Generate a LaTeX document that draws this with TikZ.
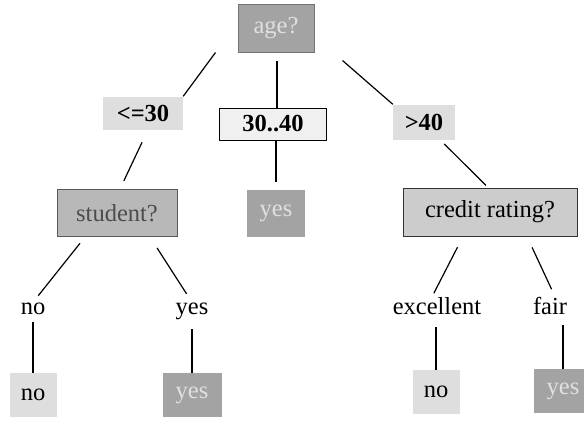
\documentclass[tikz,border=0pt]{standalone}
\usepackage{fontspec}
\setmainfont{Liberation Serif}
\definecolor{boxdark}{gray}{0.64}
\definecolor{boxmid}{gray}{0.72}
\definecolor{boxcred}{gray}{0.80}
\definecolor{boxlight}{gray}{0.87}
\begin{document}
\begin{tikzpicture}[x=1pt,y=-1pt,
	every node/.style={font=\fontsize{24.5}{29}\selectfont,inner sep=0pt},
	dunkel/.style={fill=boxdark,text=white!88!black},
	hell/.style={fill=boxlight},
	kante/.style={line width=1.2pt}]
	\useasboundingbox (0,0) rectangle (584,421);
		% Wurzel
		\node[dunkel,draw=black!55,line width=1pt,minimum width=76pt,minimum height=48pt] (age) at (276,28) {age?};
		% Zweige unter der Wurzel
		\node[hell,minimum width=80pt,minimum height=33pt,font=\fontsize{24.5}{29}\selectfont\bfseries] (le30) at (143,113) {<=30};
		\node[fill=white!94!black,draw=black,line width=1pt,minimum width=107pt,minimum height=32pt,font=\fontsize{24.5}{29}\selectfont\bfseries] (mid) at (273,124) {30..40};
		\node[hell,minimum width=62pt,minimum height=35pt,font=\fontsize{24.5}{29}\selectfont\bfseries] (gt40) at (424,122) {>40};
		% zweite Ebene
		\node[fill=boxmid,draw=black!65,line width=1pt,text=black!70,minimum width=120pt,minimum height=47pt] (student) at (117,213) {student?};
		\node[dunkel,minimum width=58pt,minimum height=47pt] (yesa) at (276,213) {yes};
		\node[fill=boxcred,draw=black!80,line width=1pt,minimum width=174pt,minimum height=48pt] (credit) at (490,212) {credit rating?};
		% Beschriftung der Kanten
		\foreach \n/\x/\t in {lno/33/no,lyes/192/yes,lexc/437/excellent,lfair/550/fair}
		\node[anchor=base] (\n) at (\x,314) {\t};
		% Blaetter
		\foreach \n/\x/\y/\w/\s/\t in {bno/33/395/47/hell/no,byes/192/395/59/dunkel/yes,cno/436/392/47/hell/no,cyes/563/391/58/dunkel/yes}
		\node[\s,minimum width=\w pt,minimum height=44pt] (\n) at (\x,\y) {\t};
		% Kanten
		\draw[kante] ([xshift=-22pt]age.south west) -- (le30.north east);
		\draw[kante,shorten <=8pt] ([xshift=1pt]age.south) -- ([xshift=1pt]age.south |- mid.north);
		\draw[kante] ([xshift=28pt,yshift=-8pt]age.south east) -- (gt40.north west);
		\draw[kante,shorten <=14pt,shorten >=9pt] ([xshift=5pt]le30.south) -- ([xshift=3pt]student.north);
		\draw[kante,shorten >=7pt] (yesa.north |- mid.south) -- (yesa.north);
		\draw[kante,shorten <=6pt,shorten >=3pt] ([xshift=16pt]gt40.south) -- ([xshift=-2pt]credit.north);
		\draw[kante,shorten <=8pt,shorten >=2pt] ([xshift=-32pt]student.south) -- ([xshift=4pt,yshift=5pt]lno.north);
		\draw[kante,shorten <=13pt,shorten >=10pt] ([xshift=33pt]student.south) -- (lyes.north);
		\draw[kante,shorten <=12pt,shorten >=4pt] ([xshift=-27pt]credit.south) -- ([xshift=-5pt]lexc.north);
		\draw[kante,shorten <=12pt,shorten >=8pt] ([xshift=37pt]credit.south) -- ([xshift=5pt]lfair.north);
		\foreach \a/\b/\k in {lno/bno/8,lyes/byes/10,lexc/cno/13,lfair/cyes/11}
		\draw[kante,shorten <=\k pt] (\b.north |- \a.south) -- (\b.north);
	\end{tikzpicture}
\end{document}
